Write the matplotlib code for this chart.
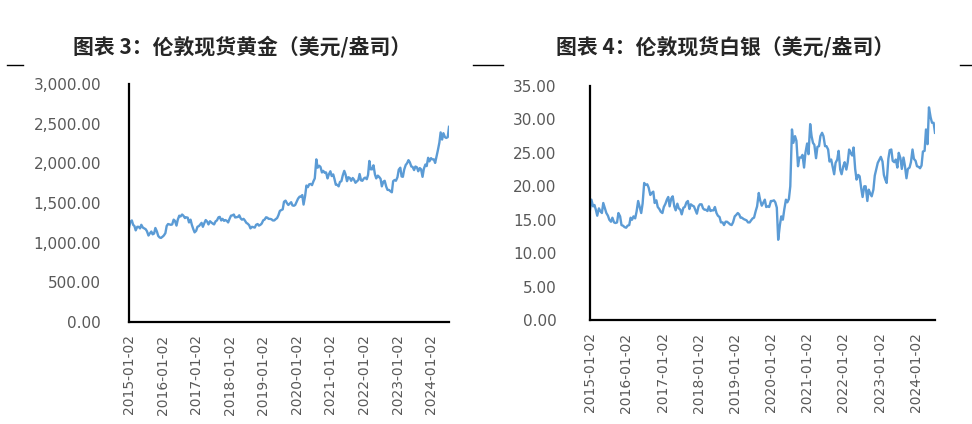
import matplotlib
matplotlib.use('Agg')
import numpy as np
import pandas as pd
import matplotlib.pyplot as plt
import matplotlib.dates as mdates
from matplotlib.ticker import FuncFormatter, MultipleLocator
from matplotlib.lines import Line2D

# semi-monthly readings (1st / 15th of each month), 2015-01 .. 2024-07
gold = [
    1186, 1260, 1280, 1225, 1210, 1155, 1200, 1200, 1180, 1225, 1190, 1180,
    1170, 1145, 1090, 1115, 1140, 1105, 1115, 1185, 1140, 1085, 1065, 1060,
    1075, 1090, 1120, 1210, 1235, 1230, 1225, 1230, 1290, 1275, 1215, 1290,
    1340, 1330, 1355, 1340, 1310, 1320, 1315, 1255, 1290, 1225, 1170, 1130,
    1150, 1200, 1210, 1230, 1250, 1200, 1250, 1285, 1265, 1230, 1270, 1255,
    1240, 1230, 1270, 1280, 1320, 1325, 1280, 1300, 1275, 1285, 1275, 1255,
    1305, 1340, 1345, 1355, 1318, 1320, 1325, 1345, 1305, 1290, 1300, 1280,
    1250, 1240, 1220, 1180, 1200, 1195, 1190, 1225, 1235, 1215, 1225, 1240,
    1282, 1290, 1320, 1315, 1300, 1300, 1295, 1280, 1280, 1295, 1310, 1345,
    1400, 1410, 1420, 1515, 1530, 1500, 1475, 1490, 1510, 1470, 1465, 1475,
    1520, 1555, 1580, 1580, 1600, 1480, 1590, 1720, 1700, 1735, 1740, 1725,
    1775, 1810, 2050, 1945, 1970, 1955, 1885, 1905, 1880, 1885, 1810, 1860,
    1900, 1840, 1860, 1800, 1730, 1730, 1710, 1765, 1775, 1845, 1905, 1860,
    1775, 1825, 1815, 1780, 1815, 1795, 1755, 1770, 1790, 1865, 1785, 1780,
    1810, 1820, 1800, 1855, 2030, 1925, 1925, 1975, 1860, 1810, 1845, 1830,
    1805, 1710, 1770, 1780, 1705, 1665, 1665, 1650, 1635, 1775, 1790, 1780,
    1825, 1920, 1945, 1835, 1830, 1920, 1980, 2000, 2040, 2015, 1960, 1955,
    1915, 1960, 1950, 1900, 1940, 1925, 1830, 1930, 1985, 1965, 2070, 2025,
    2065, 2050, 2050, 2005, 2085, 2160, 2260, 2390, 2300, 2380, 2330, 2320,
    2330, 2460,
]

silver = [
    16.5, 18.0, 17.0, 17.2, 16.5, 15.6, 16.7, 16.3, 16.0, 17.5, 16.7, 16.0,
    15.6, 15.0, 14.7, 15.3, 14.6, 14.5, 14.6, 16.0, 15.5, 14.2, 14.1, 13.9,
    13.8, 14.1, 14.2, 15.3, 15.0, 15.5, 15.2, 16.2, 17.8, 17.0, 16.0, 17.4,
    20.5, 20.2, 20.3, 19.8, 18.7, 19.0, 19.2, 17.5, 17.9, 16.9, 16.6, 16.2,
    16.0, 16.9, 17.4, 18.0, 18.4, 17.0, 18.2, 18.5, 17.0, 16.4, 17.4, 16.7,
    16.5, 15.8, 16.8, 16.9, 17.6, 17.8, 16.6, 17.3, 17.1, 17.0, 16.4, 15.9,
    17.0, 17.3, 17.3, 16.7, 16.5, 16.5, 16.3, 17.0, 16.3, 16.4, 16.4, 16.9,
    16.0, 15.6, 15.4, 14.6, 14.6, 14.2, 14.7, 14.7, 14.5, 14.3, 14.2, 14.6,
    15.5, 15.7, 16.0, 15.8, 15.3, 15.3, 15.1, 15.0, 14.9, 14.6, 14.6, 14.9,
    15.2, 15.3, 16.3, 17.0, 19.0, 17.9, 17.1, 17.5, 18.0, 16.9, 17.0, 16.9,
    17.8, 17.8, 17.9, 17.6, 16.8, 12.0, 14.2, 15.5, 15.0, 16.5, 18.0, 17.6,
    18.1, 20.0, 28.5, 26.5, 27.5, 26.8, 23.0, 24.3, 24.3, 24.7, 22.8, 25.0,
    26.4, 24.8, 29.3, 27.5, 26.5, 26.2, 24.2, 25.9, 26.0, 27.5, 28.0, 27.5,
    26.0, 26.0, 25.5, 23.7, 24.0, 23.0, 21.8, 23.5, 24.0, 25.3, 22.5, 21.8,
    23.0, 23.6, 22.5, 23.6, 25.5, 25.0, 24.6, 25.8, 22.6, 21.0, 21.7, 21.5,
    19.7, 18.4, 20.0, 20.0, 17.8, 19.5, 18.9, 18.5, 19.5, 21.6, 22.6, 23.5,
    24.0, 24.4, 23.7, 21.7, 21.0, 20.5, 24.1, 25.4, 25.5, 23.8, 23.6, 24.0,
    22.8, 25.0, 24.2, 22.6, 24.3, 23.1, 21.2, 22.6, 22.8, 23.6, 25.5, 24.1,
    23.8, 23.0, 22.9, 22.7, 23.1, 25.2, 25.3, 28.5, 26.3, 31.8, 30.3, 29.5,
    29.5, 28.0,
]

dates = pd.date_range('2015-01-01', periods=len(gold), freq='SMS')
tick_dates = pd.to_datetime(['%d-01-02' % y for y in range(2015, 2025)])

titles = ['图表 3：伦敦现货黄金（美元/盎司）', '图表 4：伦敦现货白银（美元/盎司）']

LINE = '#5B9BD5'
GREY = '#595959'

fig = plt.figure(figsize=(9.72, 4.24), dpi=100)

ax1 = fig.add_axes([129 / 972, 1 - 322 / 424, 320 / 972, 238 / 424])
ax2 = fig.add_axes([590 / 972, 1 - 320 / 424, 345 / 972, 234 / 424])


def style(ax, values, ymax, step, pad):
    ax.plot(dates, values, color=LINE, lw=1.7)
    ax.set_xlim(dates[0], dates[-1])
    ax.set_ylim(0, ymax)
    ax.yaxis.set_major_locator(MultipleLocator(step))
    ax.yaxis.set_major_formatter(FuncFormatter(lambda v, p: '{:,.2f}'.format(v)))
    ax.set_xticks(tick_dates)
    ax.xaxis.set_major_formatter(mdates.DateFormatter('%Y-%m-%d'))
    for s in ['top', 'right']:
        ax.spines[s].set_visible(False)
    for s in ['left', 'bottom']:
        ax.spines[s].set_linewidth(1.6)
        ax.spines[s].set_color('black')
    ax.tick_params(axis='y', length=0, pad=pad, labelsize=11, labelcolor=GREY)
    ax.tick_params(axis='x', length=0, pad=9, labelsize=10, labelcolor=GREY,
                   labelrotation=90)


style(ax1, gold, 3000, 500, 20)
style(ax2, silver, 35, 5, 24)

tfont = dict(family=['Noto Sans CJK SC', 'DejaVu Sans'], fontsize=15,
             fontweight='heavy', color='#262626', ha='center', va='center')
fig.text(242 / 972, 1 - 47 / 424, titles[0], **tfont)
fig.text(725 / 972, 1 - 47 / 424, titles[1], **tfont)

# short separator lines under the titles
for x0, x1 in [(7, 23), (473, 503), (960, 972)]:
    fig.add_artist(Line2D([x0 / 972, x1 / 972], [1 - 65 / 424] * 2,
                          color='black', lw=1.0))

fig.savefig('out.png', dpi=100)
